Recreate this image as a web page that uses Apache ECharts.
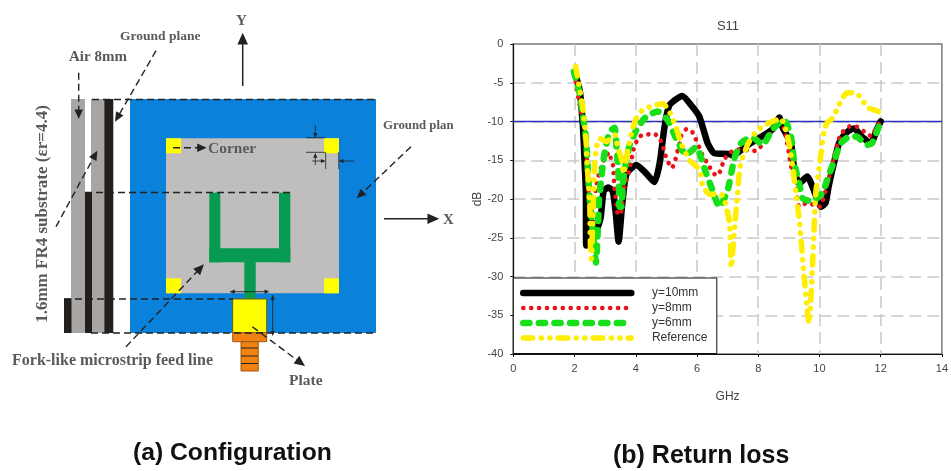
<!DOCTYPE html>
<html>
<head>
<meta charset="utf-8">
<style>html,body{margin:0;padding:0;background:#fff}#c{width:951px;height:471px}</style>
<script src="https://cdn.jsdelivr.net/npm/echarts@6/dist/echarts.min.js"></script>
</head>
<body>
<div id="c"></div>
<script>
var seriesNames = ['y=10mm', 'y=8mm', 'y=6mm', 'Reference'];
var xTicks = {min: 0, max: 14, interval: 2};
var yTicks = {min: -40, max: 0, interval: 5};
var threshold = [[0, -10], [14, -10]];
var y10mm = [[2,-3.6],[2.17,-6],[2.28,-11],[2.33,-15.4],[2.37,-19],[2.38,-26],[2.5,-22.5],[2.7,-24],[2.85,-22.5],[2.95,-19],[3.1,-18.5],[3.25,-19],[3.35,-22],[3.44,-25.5],[3.55,-21],[3.65,-17.5],[3.74,-16.5],[4.02,-15.6],[4.34,-16.7],[4.61,-17.8],[4.78,-15.4],[4.94,-10.7],[5.1,-7.9],[5.52,-6.7],[5.85,-8.1],[6.08,-9.4],[6.35,-12.8],[6.57,-14.1],[7.06,-14.2],[7.16,-14.4],[7.6,-13.2],[8.09,-12],[8.47,-11],[8.69,-9.5],[8.8,-10.8],[9.07,-12.8],[9.18,-16.3],[9.34,-18],[9.6,-17.1],[9.82,-18.9],[9.92,-19.9],[10.05,-21],[10.2,-20.5],[10.3,-18.4],[10.42,-16.3],[10.64,-12.8],[10.86,-11.5],[11.13,-10.9],[11.4,-12],[11.68,-12.8],[11.88,-11],[12,-10]];
var y8mm = [[2,-3.8],[2.15,-7.5],[2.33,-11],[2.39,-13.3],[2.42,-17],[2.48,-20],[2.55,-24],[2.6,-23.8],[2.62,-21.8],[2.7,-18.5],[2.82,-16.5],[3,-14.5],[3.15,-14],[3.2,-15.3],[3.26,-15.7],[3.28,-17],[3.31,-18.9],[3.35,-20],[3.38,-21],[3.41,-21.9],[3.5,-22],[3.57,-20.2],[3.64,-18.2],[3.75,-17],[3.8,-16],[3.86,-15],[3.9,-14],[4,-12.8],[4.13,-11.9],[4.38,-11.7],[4.55,-11.5],[4.75,-12],[4.87,-13],[4.94,-14],[5.03,-15],[5.18,-16],[5.29,-15],[5.35,-14],[5.43,-13],[5.48,-11.9],[5.65,-11],[5.82,-11.2],[5.95,-12.2],[6.08,-13.4],[6.21,-14.6],[6.35,-15.4],[6.49,-16.4],[6.64,-17],[6.79,-16.2],[6.87,-15],[7.06,-14.1],[7.28,-13.6],[7.49,-13.7],[7.7,-13.7],[7.9,-13.8],[8.33,-12],[8.63,-10],[8.85,-11],[9.1,-16.3],[9.2,-17.4],[9.34,-21],[9.6,-20.5],[10,-21],[10.25,-18.2],[10.5,-14.2],[10.66,-12],[10.83,-11],[11.02,-10.6],[11.24,-10.7],[11.46,-11.3],[11.7,-11.9],[11.83,-11],[12,-10]];
var y6mm = [[1.98,-3.6],[2.17,-6.4],[2.28,-9.4],[2.37,-12],[2.41,-14.4],[2.44,-16.7],[2.5,-20],[2.62,-25],[2.7,-28.2],[2.76,-24],[2.8,-20.2],[2.82,-19.3],[2.93,-15.4],[3.02,-13.3],[3.15,-11.3],[3.31,-10.8],[3.37,-13.3],[3.41,-15.2],[3.45,-18],[3.47,-21],[3.53,-21],[3.58,-18],[3.69,-15],[3.82,-12.8],[4.02,-11.1],[4.31,-9.5],[4.71,-8.7],[5.04,-9.8],[5.32,-12.2],[5.65,-14.3],[5.97,-13.3],[6.3,-16.7],[6.51,-18.9],[6.73,-21],[7,-18.9],[7.22,-14.8],[7.44,-12.8],[7.8,-12],[8.14,-13],[8.47,-11],[8.85,-9.8],[9.07,-12],[9.18,-15.4],[9.34,-18],[9.45,-19.9],[9.75,-20.3],[10.08,-19.3],[10.3,-17],[10.47,-15.2],[10.7,-12.8],[11.02,-11.9],[11.24,-12],[11.56,-13],[11.72,-12.8],[12,-10]];
var reference = [[2.04,-2.9],[2.17,-5.9],[2.28,-8.5],[2.37,-12],[2.41,-15.4],[2.44,-17],[2.5,-21],[2.52,-26.1],[2.55,-27.7],[2.6,-22],[2.66,-15.4],[2.72,-13.3],[2.82,-12.2],[3.04,-12.6],[3.31,-11.7],[3.41,-13.3],[3.53,-14.8],[3.6,-16.7],[3.74,-13.7],[3.86,-11.5],[4,-9.7],[4.23,-8.5],[4.55,-8],[4.88,-7.7],[5.07,-8.5],[5.3,-10.6],[5.48,-12.8],[5.76,-15],[6.08,-16.2],[6.18,-18.2],[6.41,-19.4],[6.79,-19.4],[7.06,-23],[7.12,-28.8],[7.22,-24],[7.32,-19.6],[7.38,-16.7],[7.44,-15.2],[7.55,-14.1],[7.65,-13],[7.93,-11.3],[8.25,-10.4],[8.52,-9.9],[8.74,-9.6],[8.95,-11.8],[9.07,-14.3],[9.14,-16.3],[9.23,-19.2],[9.35,-23],[9.5,-30],[9.66,-36],[9.78,-28],[9.88,-19.2],[9.97,-16.7],[10.05,-14.1],[10.15,-11.3],[10.25,-10.2],[10.47,-9.4],[10.58,-8.3],[10.73,-7.2],[10.9,-6.3],[11.19,-6.3],[11.4,-7.3],[11.62,-8.3],[11.88,-8.6],[12,-9]];

var SERIF = '"Liberation Serif", serif', SANS = '"Liberation Sans", Arial, sans-serif';
var INK = '#222', LABEL = '#5a5a5a';
var blackLine = {color:'#000',width:6.5,cap:'round',join:'round'};
var redLine = {color:'#e8141c',width:4.6,type:[0.1,7.8],cap:'round',join:'round'};
var greenLine = {color:'#18e018',width:6.5,type:[6.2,9.4],cap:'round',join:'round'};
var yellowLine = {color:'#ffee00',width:5.5,type:[9.5,8.5,0.1,8.5,0.1,8.3],cap:'round',join:'round'};
var hiddenSymbol = {color:'rgba(0,0,0,0)',borderWidth:0,opacity:0};
// diagram pieces: [x, y, w, h, fill, stroke]
var rects = [
  [71,99,14,234,'#a8a6a4'], [91,99,13.5,234,'#a8a6a4'],
  [85,192,7,141,'#231f1c'], [104.3,99,9,234,'#231f1c'], [64,298.5,7.5,34.5,'#231f1c'],
  [130,99,246,234,'#0a82dc'], [166,138.3,173,155,'#c0bdbd'],
  [166,138.3,15,15,'#ffff00'], [324,138.3,15,15,'#ffff00'], [166,278.3,15,15,'#ffff00'], [324,278.3,15,15,'#ffff00'],
  [209.3,192.7,11,69.6,'#079a52'], [279,192.7,11.3,69.6,'#079a52'], [209.3,248.3,81,14,'#079a52'], [244.3,262,11.4,37,'#079a52'],
  [232.7,299,34,33.7,'#ffff00','#6b5a10'], [232.7,332.7,34,9,'#f08212','#a05a10'], [241,341.7,17.3,29.3,'#f08212','#a05a10']
];
// [x1,y1,x2,y2,width,dashed]
var lines = [
  [92,99.5,376,99.5,1.4,1],[85,192.5,290,192.5,1.4,1],[64,299,233,299,1.4,1],[91,333,376,333,1.4,1],
  [241,348,258,348,1,0],[241,356,258,356,1,0],[241,363.5,258,363.5,1,0],
  [306,137.7,325,137.7,.8,0],[306,152.3,325,152.3,.8,0],[325.7,152,325.7,169,.8,0],[338.7,152,338.7,169,.8,0]
];
// [x1,y1,x2,y2,width,dashed,headSize,doubleHead]
var arrows = [
  [78.7,72.7,78.7,119,1.4,1,8,0],[156,50.7,115,121.7,1.4,1,8,0],[56,226.7,97.3,150.7,1.4,1,8,0],
  [173,147.7,206.7,147.7,1.4,1,8,0],[411,146.7,356.7,198.3,1.4,1,8,0],
  [126,346.7,204,264.3,1.4,1,9,0],[252.3,326.7,305,366,1.4,1,9,0],
  [384,218.7,439.3,218.7,1.5,0,10,0],[242.7,86,242.7,32.7,1.5,0,10,0],
  [315.3,125,315.3,137.7,.8,0,4,0],[315.3,165,315.3,153,.8,0,4,0],[312.3,161,325.7,161,.8,0,4,0],[354.3,161,338.7,161,.8,0,4,0],
  [230,291.7,269.3,291.7,.9,0,4,1],[272.7,295,272.7,336,.9,0,4,1]
];
// [text,x,y,font]
var labels = [
  ['Air 8mm',69,57,'bold 15px '+SERIF],['Ground plane',120,37,'bold 13.5px '+SERIF],
  ['Corner',208,149,'bold 15.5px '+SERIF],['Ground plan',383,126,'bold 12.8px '+SERIF],
  ['Fork-like microstrip feed line',12,361,'bold 16px '+SERIF],['Plate',289,381,'bold 15.5px '+SERIF],
  ['X',443,220,'bold 15px '+SERIF],['Y',236,21,'bold 15px '+SERIF]
];
var captions = [['(a) Configuration',133,453,'bold 24.7px '+SANS],['(b) Return loss',613,456,'bold 25px '+SANS]];

var g = [];
rects.forEach(function(r){
  g.push({type:'rect',shape:{x:r[0],y:r[1],width:r[2],height:r[3]},style:{fill:r[4],stroke:r[5]||null,lineWidth:1},silent:true,z:10});
});
function head(x2,y2,ang,s,z){
  var a=.42;
  g.push({type:'polygon',shape:{points:[[x2,y2],[x2-s*1.3*Math.cos(ang-a),y2-s*1.3*Math.sin(ang-a)],[x2-s*1.3*Math.cos(ang+a),y2-s*1.3*Math.sin(ang+a)]]},style:{fill:INK},silent:true,z:z});
}
lines.forEach(function(l){
  g.push({type:'line',shape:{x1:l[0],y1:l[1],x2:l[2],y2:l[3]},style:{stroke:INK,lineWidth:l[4],lineDash:l[5]?[7,4]:null},silent:true,z:11});
});
arrows.forEach(function(a){
  var ang=Math.atan2(a[3]-a[1],a[2]-a[0]);
  g.push({type:'line',shape:{x1:a[0],y1:a[1],x2:a[2]-Math.cos(ang)*a[6]*.8,y2:a[3]-Math.sin(ang)*a[6]*.8},style:{stroke:INK,lineWidth:a[4],lineDash:a[5]?[7,4]:null},silent:true,z:12});
  head(a[2],a[3],ang,a[6],12);
  if(a[7]) head(a[0],a[1],ang+Math.PI,a[6],12);
});
labels.forEach(function(t){
  g.push({type:'text',style:{text:t[0],x:t[1],y:t[2],font:t[3],fill:LABEL,textAlign:'left',textVerticalAlign:'middle'},silent:true,z:13});
});
g.push({type:'text',x:43,y:214,rotation:Math.PI/2,style:{text:'1.6mm FR4 substrate (\u03B5r=4.4)',font:'bold 17px '+SERIF,fill:LABEL,textAlign:'center',textVerticalAlign:'middle'},silent:true,z:13});
captions.forEach(function(t){
  g.push({type:'text',style:{text:t[0],x:t[1],y:t[2],font:t[3],fill:'#111',textAlign:'left',textVerticalAlign:'middle'},silent:true,z:13});
});

var chart = echarts.init(document.getElementById('c'), null, {renderer:'canvas'});
function axisBase(){
  return {
    axisLine:{show:true,onZero:false,lineStyle:{color:'#111',width:1.2}},
    axisTick:{show:true,length:3,lineStyle:{color:'#111',width:1}},
    splitLine:{show:true,showMinLine:false,showMaxLine:false,lineStyle:{color:'#c9c9c9',width:1.5,type:[12,6]}},
    nameTextStyle:{color:'#444',fontFamily:SANS,fontSize:12}
  };
}
function mk(name,data,style,z){
  return {name:name,type:'line',data:data,smooth:.2,showSymbol:false,symbol:'none',lineStyle:style,itemStyle:{color:style.color},z:z,animation:false,clip:false};
}
chart.setOption({
  backgroundColor:'#fff',
  animation:false,
  title:{text:'S11',left:723,top:15,textAlign:'center',textStyle:{color:'#444',fontFamily:SANS,fontSize:13,fontWeight:'normal'}},
  grid:{left:513.3,right:8,top:44,bottom:117,show:true,borderColor:'#7a7a7a',borderWidth:1.5,backgroundColor:'transparent'},
  xAxis:Object.assign(axisBase(),{type:'value',min:xTicks.min,max:xTicks.max,interval:xTicks.interval,name:'GHz',nameLocation:'middle',nameGap:37,axisLabel:{color:'#444',fontFamily:SANS,fontSize:11,margin:9}}),
  yAxis:Object.assign(axisBase(),{type:'value',min:yTicks.min,max:yTicks.max,interval:yTicks.interval,name:'dB',nameLocation:'middle',nameGap:25,nameRotate:90,axisLabel:{color:'#444',fontFamily:SANS,fontSize:11,margin:10}}),
  legend:{
    data:[
      {name:seriesNames[0],lineStyle:blackLine,itemStyle:hiddenSymbol},
      {name:seriesNames[1],lineStyle:redLine,itemStyle:hiddenSymbol},
      {name:seriesNames[2],lineStyle:greenLine,itemStyle:hiddenSymbol},
      {name:seriesNames[3],lineStyle:yellowLine,itemStyle:hiddenSymbol}
    ],
    orient:'vertical',left:513.3,top:278,
    padding:[9,9.5,9.5,6.7],itemWidth:108,itemHeight:12,itemGap:3,
    backgroundColor:'#fff',borderColor:'#111',borderWidth:1,borderRadius:0,
    selectedMode:false,
    textStyle:{color:'#333',fontFamily:SANS,fontSize:12,padding:[0,0,0,15.7]},
    z:6
  },
  graphic:{elements:g},
  series:[
    {name:'-10 dB',type:'line',data:threshold,symbol:'none',lineStyle:{color:'#3030c0',width:1.6},z:2,animation:false},
    mk(seriesNames[0],y10mm,blackLine,3),
    mk(seriesNames[1],y8mm,redLine,4),
    mk(seriesNames[2],y6mm,greenLine,5),
    mk(seriesNames[3],reference,yellowLine,5.5)
  ]
});
</script>
</body>
</html>
